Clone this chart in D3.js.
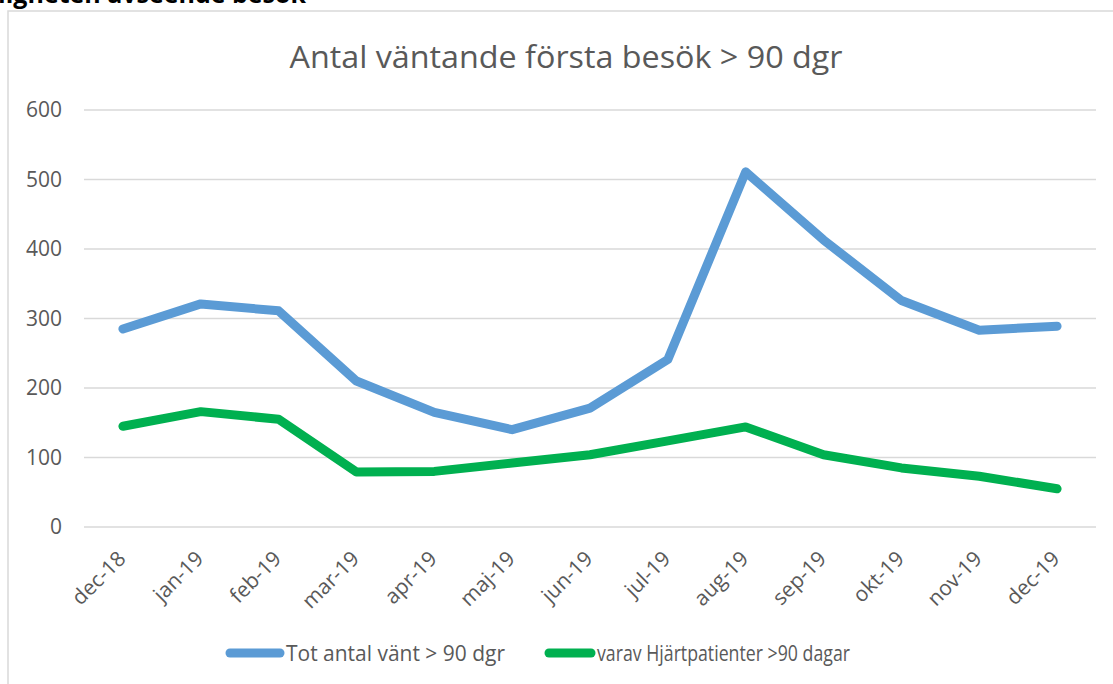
<!DOCTYPE html>
<html>
<head>
<meta charset="utf-8">
<script src="https://cdn.jsdelivr.net/npm/d3@7"></script>
<style>
  body { margin: 0; background: #fff; overflow: hidden; }
  svg { display: block; font-family: "Open Sans", "Noto Sans", sans-serif; }
  .axis text { font-size: 21px !important; fill: #595959; font-family: "Open Sans", sans-serif; }
</style>
</head>
<body>
<svg id="chart" width="1113" height="684"></svg>
<script>
// Antal väntande första besök > 90 dgr
const months = ['dec-18','jan-19','feb-19','mar-19','apr-19','maj-19','jun-19',
  'jul-19','aug-19','sep-19','okt-19','nov-19','dec-19'];
const totalWaiting = [285, 321, 311, 210, 165, 140, 171, 241, 511, 413, 326, 283, 289];
const heartPatients = [145, 166, 155, 79, 80, 92, 104, 124, 144, 104, 85, 73, 55];
const yTicks = [0, 100, 200, 300, 400, 500, 600];

const seriesNames = ['Tot antal vänt > 90 dgr', 'varav Hjärtpatienter >90 dagar'];
const seriesColors = ['#5b9bd5', '#00b050'];

const W = 1113, H = 684;
const m = { left: 84, right: 17, top: 110, bottom: 157 };
const svg = d3.select('#chart');

// page heading, cut off by the screenshot
svg.append('text')
  .attr('x', 306).attr('y', 3)
  .attr('text-anchor', 'end')
  .style('font-size', '25px').style('font-weight', 'bold').attr('fill', '#000')
  .text('Tillgängligheten avseende besök');

// chart area border (top + left visible)
svg.append('path')
  .attr('d', `M8,${H} V11 H${W}`)
  .attr('fill', 'none').attr('stroke', '#d9d9d9').attr('stroke-width', 1.5);

const x = d3.scaleBand().domain(months).range([m.left, W - m.right]);
const y = d3.scaleLinear().domain([0, 600]).range([H - m.bottom, m.top]);

// gridlines
svg.append('g').selectAll('line')
  .data(yTicks).join('line')
  .attr('x1', m.left).attr('x2', W - m.right)
  .attr('y1', d => y(d)).attr('y2', d => y(d))
  .attr('stroke', '#d9d9d9').attr('stroke-width', 1.5);

// y axis labels
const yAxis = d3.axisLeft(y).tickValues(yTicks).tickSize(0).tickPadding(22);
svg.append('g').attr('class', 'axis').attr('transform', `translate(${m.left},0)`).call(yAxis)
  .call(g => g.select('.domain').remove());

// x axis labels, rotated
const xAxis = d3.axisBottom(x).tickSize(0).tickPadding(0);
svg.append('g').attr('class', 'axis').attr('transform', `translate(0,${y(0)})`).call(xAxis)
  .call(g => g.select('.domain').remove())
  .selectAll('text')
  .attr('text-anchor', 'end')
  .attr('dy', 0)
  .attr('transform', 'translate(4,33) rotate(-45)');

// title
svg.append('text')
  .attr('x', 566).attr('y', 68)
  .attr('text-anchor', 'middle')
  .style('font-size', '31px').attr('fill', '#595959')
  .attr('textLength', 553).attr('lengthAdjust', 'spacingAndGlyphs')
  .text('Antal väntande första besök > 90 dgr');

// lines
const line = d3.line()
  .x((d, i) => x(months[i]) + x.bandwidth() / 2)
  .y(d => y(d));

[totalWaiting, heartPatients].forEach((vals, i) => {
  svg.append('path')
    .datum(vals)
    .attr('d', line)
    .attr('fill', 'none')
    .attr('stroke', seriesColors[i])
    .attr('stroke-width', 9)
    .attr('stroke-linejoin', 'round')
    .attr('stroke-linecap', 'round');
});

// legend
const legendItems = [
  { x: 226, len: 58, textLen: 219 },
  { x: 545, len: 50, textLen: 253 },
];
const legend = svg.append('g');
legendItems.forEach((it, i) => {
  legend.append('line')
    .attr('x1', it.x + 4).attr('x2', it.x + it.len - 4)
    .attr('y1', 653).attr('y2', 653)
    .attr('stroke', seriesColors[i]).attr('stroke-width', 9)
    .attr('stroke-linecap', 'round');
  legend.append('text')
    .attr('x', it.x + it.len + 2).attr('y', 661)
    .style('font-size', '21px').attr('fill', '#595959')
    .attr('textLength', it.textLen).attr('lengthAdjust', 'spacingAndGlyphs')
    .text(seriesNames[i]);
});
</script>
</body>
</html>
